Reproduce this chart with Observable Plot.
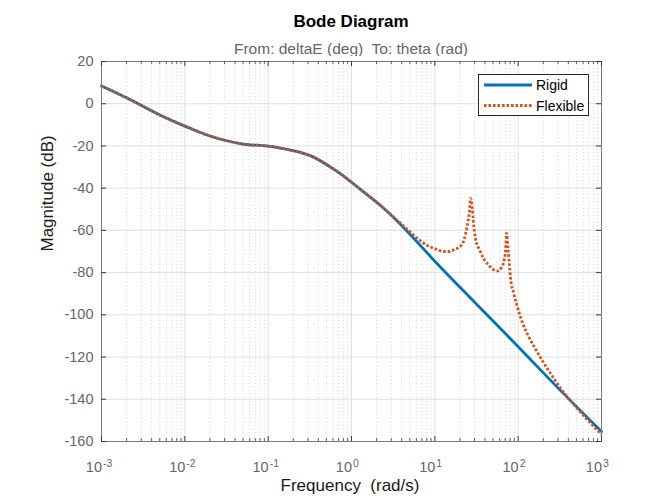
<!DOCTYPE html>
<html>
<head>
<meta charset="utf-8">
<script src="https://cdn.jsdelivr.net/npm/d3@7"></script>
<script src="https://cdn.jsdelivr.net/npm/@observablehq/plot@0.6"></script>
<style>
  html, body { margin: 0; padding: 0; background: #fff; }
  #wrap { position: relative; width: 664px; height: 498px; font-family: "Liberation Sans", Arial, Helvetica, sans-serif; overflow: hidden; }
  #title { position: absolute; left: 101px; width: 500px; top: 13px; text-align: center; font-weight: bold; font-size: 17px; line-height: 17px; color: #000; white-space: pre; }
  #subtitle { position: absolute; left: 101px; width: 500px; top: 41px; text-align: center; font-size: 15.5px; line-height: 15.5px; color: #666; white-space: pre; }
  #chart { position: absolute; left: 0; top: 56px; }
  #chart svg text { white-space: pre; }
  #legend { position: absolute; left: 478px; top: 74px; width: 111px; height: 42px; box-sizing: border-box; border: 1px solid #262626; background: #fff; }
</style>
</head>
<body>
<div id="wrap">
  <div id="title"></div>
  <div id="subtitle"></div>
  <div id="chart"></div>
  <div id="legend"></div>
</div>
<script>
// ---- data ----
const titleText = "Bode Diagram";
const subtitleText = "From: deltaE (deg)  To: theta (rad)";
const xLabel = "Frequency  (rad/s)";
const yLabel = "Magnitude (dB)";

const seriesNames = ["Rigid", "Flexible"];
const seriesColors = ["#0072BD", "#D95319"];

const rigidFreq = [0.001, 0.002, 0.005, 0.01, 0.02, 0.03, 0.05, 0.1, 0.14, 0.22, 0.35, 0.56, 0.74, 1, 1.41, 2.23, 3.53, 5, 10, 30, 100, 300, 1000];
const rigidMag  = [8.4, 2.8, -5.3, -10.6, -15.3, -17.3, -19.1, -20.1, -21.0, -22.6, -25.3, -30.0, -33.2, -37.2, -41.9, -48.2, -55.5, -61.7, -74.6, -94.0, -115.1, -134.6, -155.3];

const flexFreq = [0.001, 0.002, 0.005, 0.01, 0.02, 0.03, 0.05, 0.1, 0.14, 0.22, 0.35, 0.56, 0.74, 1, 1.41, 2.23, 3.53,
  5.1, 6.75, 8.1, 10.7, 12.6, 14.8, 16.9, 19.5, 21.7, 23.4, 24.9, 26.1, 26.8, 28.1, 28.9, 30.8, 34.7, 38.8, 44.6, 51.2, 57.1, 62.8, 67.6, 70.8, 72.5,
  75.4, 78.4, 80.9, 88.7, 97.5, 112, 134, 161, 203, 256, 337, 445, 586, 773, 1000];
const flexMag  = [8.4, 2.8, -5.3, -10.6, -15.3, -17.3, -19.1, -20.1, -21.0, -22.6, -25.3, -30.0, -33.2, -37.2, -41.9, -48.2, -55.2,
  -60.9, -65.0, -67.1, -69.1, -70.0, -70.0, -69.2, -68.0, -65.9, -61.6, -56.1, -50.6, -44.8, -49.0, -55.3, -64.0, -69.5, -73.5, -76.6, -78.7, -79.2, -77.7, -74.3, -68.7, -61.3,
  -68.0, -75.8, -82.2, -90.0, -96.0, -103.5, -110.4, -116.1, -122.8, -129.0, -135.8, -141.6, -147.0, -152.1, -156.7];

const xTicks = [1e-3, 1e-2, 1e-1, 1, 10, 100, 1000];
const xTickExponents = ["-3", "-2", "-1", "0", "1", "2", "3"];
const yTicks = [-160, -140, -120, -100, -80, -60, -40, -20, 0, 20];

// ---- build ----
const rigid = rigidFreq.map((f, i) => ({f, db: rigidMag[i]}));
const flex = flexFreq.map((f, i) => ({f, db: flexMag[i]}));
const minorTicks = xTicks.slice(0, -1).flatMap(d => [2,3,4,5,6,7,8,9].map(k => d * k));

const W = 664, H = 442, mL = 101, mR = 63, mT = 5, mB = 57;
const frameH = H - mT - mB;
const frameW = W - mL - mR;
const tickCol = "#3a3a3a";
const labCol = "#666666";
const dots = "2.6,1.9";

document.getElementById("title").textContent = titleText;
document.getElementById("subtitle").textContent = subtitleText;

const chart = Plot.plot({
  width: W, height: H,
  marginLeft: mL, marginRight: mR, marginTop: mT, marginBottom: mB,
  style: {fontFamily: '"Liberation Sans", Arial, Helvetica, sans-serif', background: "white", overflow: "visible"},
  x: {type: "log", domain: [1e-3, 1e3], axis: null},
  y: {domain: [-160, 20], axis: null},
  marks: [
    Plot.ruleX(minorTicks, {x: d => d, stroke: "#c8c8c8", strokeWidth: 0.8, strokeDasharray: "1,2.5"}),
    Plot.ruleX(xTicks, {x: d => d, stroke: "#dfdfdf", strokeWidth: 1}),
    Plot.ruleY(yTicks, {y: d => d, stroke: "#dfdfdf", strokeWidth: 1}),
    Plot.line(rigid, {x: "f", y: "db", stroke: seriesColors[0], strokeWidth: 2.8, curve: "monotone-x"}),
    Plot.line(flex, {x: "f", y: "db", stroke: seriesColors[1], strokeWidth: 2.8, strokeDasharray: dots, strokeLinecap: "butt", strokeLinejoin: "round", curve: "monotone-x"}),
    Plot.frame({stroke: "#7a7a7a", strokeWidth: 1}),
    // inward ticks, bottom & top
    Plot.tickX(xTicks, {x: d => d, insetTop: frameH - 5, stroke: tickCol}),
    Plot.tickX(xTicks, {x: d => d, insetBottom: frameH - 5, stroke: tickCol}),
    Plot.tickX(minorTicks, {x: d => d, insetTop: frameH - 3, stroke: tickCol, strokeWidth: 0.8}),
    Plot.tickX(minorTicks, {x: d => d, insetBottom: frameH - 3, stroke: tickCol, strokeWidth: 0.8}),
    // inward ticks, left & right
    Plot.tickY(yTicks, {y: d => d, insetRight: frameW - 5, stroke: tickCol}),
    Plot.tickY(yTicks, {y: d => d, insetLeft: frameW - 5, stroke: tickCol}),
    // y tick labels
    Plot.text(yTicks, {y: d => d, text: d => String(d), frameAnchor: "left", textAnchor: "end", dx: -8, fontSize: 14.5, fill: labCol}),
    // x tick labels 10^n
    Plot.text(xTicks, {x: d => d, text: () => "10", frameAnchor: "bottom", lineAnchor: "bottom", textAnchor: "end", dx: 0.5, dy: 30.5, fontSize: 14.5, fill: labCol}),
    Plot.text(xTicks, {x: d => d, text: (d, i) => xTickExponents[i], frameAnchor: "bottom", lineAnchor: "bottom", textAnchor: "start", dx: 1.5, dy: 25, fontSize: 10.5, fill: labCol}),
    // axis labels
    Plot.text([xLabel], {text: d => d, frameAnchor: "bottom", lineAnchor: "bottom", dy: 49, dx: -1.5, fontSize: 17, fill: "#1a1a1a"}),
    Plot.text([yLabel], {text: d => d, frameAnchor: "left", rotate: -90, dx: -54, fontSize: 17, fill: "#1a1a1a"})
  ]
});
document.getElementById("chart").appendChild(chart);

// ---- legend ----
const lg = d3.select("#legend").append("svg").attr("width", 109).attr("height", 40)
  .style("display", "block");
seriesNames.forEach((name, i) => {
  const y = 10 + i * 20.5;
  lg.append("line").attr("x1", 5).attr("x2", 53).attr("y1", y).attr("y2", y)
    .attr("stroke", seriesColors[i]).attr("stroke-width", 2.8)
    .attr("stroke-dasharray", i === 1 ? dots : null);
  lg.append("text").attr("x", 57).attr("y", y + 5).text(name)
    .attr("font-size", 14).attr("fill", "#000")
    .attr("font-family", '"Liberation Sans", Arial, Helvetica, sans-serif');
});
</script>
</body>
</html>
